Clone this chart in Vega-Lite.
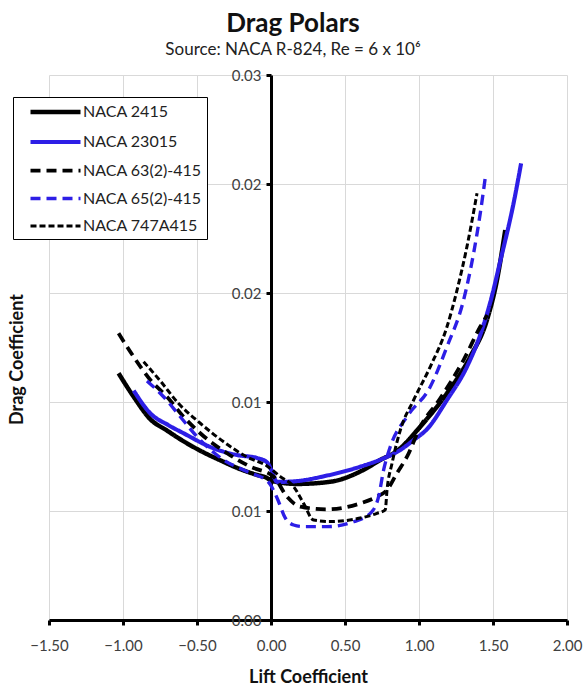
{
  "$schema": "https://vega.github.io/schema/vega-lite/v6.json",
  "width": 518,
  "height": 545,
  "autosize": {"type": "none"},
  "padding": {"left": 49, "top": 75, "right": 20, "bottom": 75},
  "background": "white",
  "title": {
    "text": "Drag Polars",
    "subtitle": "Source: NACA R-824, Re = 6 x 10⁶",
    "anchor": "middle",
    "frame": "group",
    "dx": -15,
    "offset": 10,
    "font": "Lato",
    "fontSize": 26,
    "fontWeight": "bold",
    "color": "#111111",
    "subtitleFont": "Lato",
    "subtitleFontSize": 17,
    "subtitleColor": "#222222",
    "subtitlePadding": 5
  },
  "config": {
    "view": {"stroke": null},
    "font": "Lato",
    "axis": {
      "gridColor": "#d9d9d9",
      "gridWidth": 1,
      "domainColor": "black",
      "domainWidth": 3,
      "tickColor": "black",
      "tickWidth": 3,
      "tickSize": 5,
      "labelFont": "Lato",
      "labelFontSize": 15,
      "labelColor": "#404040",
      "labelFlush": false,
      "labelOverlap": false,
      "titleFont": "Lato",
      "titleFontSize": 18,
      "titleFontWeight": "bold",
      "titleColor": "#111111"
    }
  },
  "data": {
    "values": [
      {"s": "NACA 2415", "cl": -1.030, "cd": 0.01358},
      {"s": "NACA 2415", "cl": -0.928, "cd": 0.01229},
      {"s": "NACA 2415", "cl": -0.815, "cd": 0.01105},
      {"s": "NACA 2415", "cl": -0.703, "cd": 0.01043},
      {"s": "NACA 2415", "cl": -0.613, "cd": 0.00995},
      {"s": "NACA 2415", "cl": -0.478, "cd": 0.00932},
      {"s": "NACA 2415", "cl": -0.340, "cd": 0.00878},
      {"s": "NACA 2415", "cl": -0.207, "cd": 0.00830},
      {"s": "NACA 2415", "cl": -0.100, "cd": 0.00800},
      {"s": "NACA 2415", "cl": -0.027, "cd": 0.00782},
      {"s": "NACA 2415", "cl": 0.007, "cd": 0.00765},
      {"s": "NACA 2415", "cl": 0.176, "cd": 0.00749},
      {"s": "NACA 2415", "cl": 0.401, "cd": 0.00761},
      {"s": "NACA 2415", "cl": 0.624, "cd": 0.00826},
      {"s": "NACA 2415", "cl": 0.739, "cd": 0.00881},
      {"s": "NACA 2415", "cl": 0.851, "cd": 0.00930},
      {"s": "NACA 2415", "cl": 1.008, "cd": 0.01064},
      {"s": "NACA 2415", "cl": 1.189, "cd": 0.01248},
      {"s": "NACA 2415", "cl": 1.346, "cd": 0.01449},
      {"s": "NACA 2415", "cl": 1.459, "cd": 0.01651},
      {"s": "NACA 2415", "cl": 1.527, "cd": 0.01872},
      {"s": "NACA 2415", "cl": 1.583, "cd": 0.02147},

      {"s": "NACA 23015", "cl": -0.928, "cd": 0.01263},
      {"s": "NACA 23015", "cl": -0.816, "cd": 0.01138},
      {"s": "NACA 23015", "cl": -0.694, "cd": 0.01073},
      {"s": "NACA 23015", "cl": -0.591, "cd": 0.01028},
      {"s": "NACA 23015", "cl": -0.388, "cd": 0.00945},
      {"s": "NACA 23015", "cl": -0.230, "cd": 0.00908},
      {"s": "NACA 23015", "cl": -0.095, "cd": 0.00892},
      {"s": "NACA 23015", "cl": -0.027, "cd": 0.00868},
      {"s": "NACA 23015", "cl": 0.002, "cd": 0.00826},
      {"s": "NACA 23015", "cl": 0.041, "cd": 0.00760},
      {"s": "NACA 23015", "cl": 0.153, "cd": 0.00763},
      {"s": "NACA 23015", "cl": 0.378, "cd": 0.00795},
      {"s": "NACA 23015", "cl": 0.603, "cd": 0.00844},
      {"s": "NACA 23015", "cl": 0.761, "cd": 0.00890},
      {"s": "NACA 23015", "cl": 0.874, "cd": 0.00936},
      {"s": "NACA 23015", "cl": 0.964, "cd": 0.00991},
      {"s": "NACA 23015", "cl": 1.054, "cd": 0.01050},
      {"s": "NACA 23015", "cl": 1.189, "cd": 0.01211},
      {"s": "NACA 23015", "cl": 1.324, "cd": 0.01394},
      {"s": "NACA 23015", "cl": 1.414, "cd": 0.01570},
      {"s": "NACA 23015", "cl": 1.482, "cd": 0.01750},
      {"s": "NACA 23015", "cl": 1.549, "cd": 0.01975},
      {"s": "NACA 23015", "cl": 1.639, "cd": 0.02294},
      {"s": "NACA 23015", "cl": 1.690, "cd": 0.02514},

      {"s": "NACA 63(2)-415", "cl": -1.030, "cd": 0.01578},
      {"s": "NACA 63(2)-415", "cl": -0.928, "cd": 0.01449},
      {"s": "NACA 63(2)-415", "cl": -0.815, "cd": 0.01321},
      {"s": "NACA 63(2)-415", "cl": -0.703, "cd": 0.01229},
      {"s": "NACA 63(2)-415", "cl": -0.591, "cd": 0.01119},
      {"s": "NACA 63(2)-415", "cl": -0.478, "cd": 0.01028},
      {"s": "NACA 63(2)-415", "cl": -0.297, "cd": 0.00918},
      {"s": "NACA 63(2)-415", "cl": -0.140, "cd": 0.00844},
      {"s": "NACA 63(2)-415", "cl": 0.018, "cd": 0.00789},
      {"s": "NACA 63(2)-415", "cl": 0.108, "cd": 0.00679},
      {"s": "NACA 63(2)-415", "cl": 0.198, "cd": 0.00624},
      {"s": "NACA 63(2)-415", "cl": 0.378, "cd": 0.00609},
      {"s": "NACA 63(2)-415", "cl": 0.603, "cd": 0.00642},
      {"s": "NACA 63(2)-415", "cl": 0.716, "cd": 0.00679},
      {"s": "NACA 63(2)-415", "cl": 0.784, "cd": 0.00716},
      {"s": "NACA 63(2)-415", "cl": 0.851, "cd": 0.00808},
      {"s": "NACA 63(2)-415", "cl": 0.919, "cd": 0.00899},
      {"s": "NACA 63(2)-415", "cl": 1.009, "cd": 0.01064},
      {"s": "NACA 63(2)-415", "cl": 1.144, "cd": 0.01220},
      {"s": "NACA 63(2)-415", "cl": 1.301, "cd": 0.01431},
      {"s": "NACA 63(2)-415", "cl": 1.414, "cd": 0.01614},
      {"s": "NACA 63(2)-415", "cl": 1.461, "cd": 0.01679},

      {"s": "NACA 65(2)-415", "cl": -0.838, "cd": 0.01316},
      {"s": "NACA 65(2)-415", "cl": -0.726, "cd": 0.01229},
      {"s": "NACA 65(2)-415", "cl": -0.613, "cd": 0.01119},
      {"s": "NACA 65(2)-415", "cl": -0.500, "cd": 0.01009},
      {"s": "NACA 65(2)-415", "cl": -0.320, "cd": 0.00881},
      {"s": "NACA 65(2)-415", "cl": -0.162, "cd": 0.00817},
      {"s": "NACA 65(2)-415", "cl": -0.018, "cd": 0.00760},
      {"s": "NACA 65(2)-415", "cl": 0.041, "cd": 0.00672},
      {"s": "NACA 65(2)-415", "cl": 0.097, "cd": 0.00561},
      {"s": "NACA 65(2)-415", "cl": 0.153, "cd": 0.00523},
      {"s": "NACA 65(2)-415", "cl": 0.220, "cd": 0.00514},
      {"s": "NACA 65(2)-415", "cl": 0.378, "cd": 0.00514},
      {"s": "NACA 65(2)-415", "cl": 0.558, "cd": 0.00541},
      {"s": "NACA 65(2)-415", "cl": 0.671, "cd": 0.00587},
      {"s": "NACA 65(2)-415", "cl": 0.727, "cd": 0.00679},
      {"s": "NACA 65(2)-415", "cl": 0.761, "cd": 0.00826},
      {"s": "NACA 65(2)-415", "cl": 0.806, "cd": 0.00954},
      {"s": "NACA 65(2)-415", "cl": 0.919, "cd": 0.01119},
      {"s": "NACA 65(2)-415", "cl": 1.076, "cd": 0.01284},
      {"s": "NACA 65(2)-415", "cl": 1.189, "cd": 0.01504},
      {"s": "NACA 65(2)-415", "cl": 1.301, "cd": 0.01761},
      {"s": "NACA 65(2)-415", "cl": 1.369, "cd": 0.02019},
      {"s": "NACA 65(2)-415", "cl": 1.414, "cd": 0.02239},
      {"s": "NACA 65(2)-415", "cl": 1.451, "cd": 0.02455},

      {"s": "NACA 747A415", "cl": -0.861, "cd": 0.01422},
      {"s": "NACA 747A415", "cl": -0.748, "cd": 0.01316},
      {"s": "NACA 747A415", "cl": -0.626, "cd": 0.01193},
      {"s": "NACA 747A415", "cl": -0.478, "cd": 0.01083},
      {"s": "NACA 747A415", "cl": -0.320, "cd": 0.00981},
      {"s": "NACA 747A415", "cl": -0.162, "cd": 0.00897},
      {"s": "NACA 747A415", "cl": -0.027, "cd": 0.00848},
      {"s": "NACA 747A415", "cl": 0.063, "cd": 0.00789},
      {"s": "NACA 747A415", "cl": 0.153, "cd": 0.00734},
      {"s": "NACA 747A415", "cl": 0.220, "cd": 0.00642},
      {"s": "NACA 747A415", "cl": 0.288, "cd": 0.00550},
      {"s": "NACA 747A415", "cl": 0.401, "cd": 0.00542},
      {"s": "NACA 747A415", "cl": 0.558, "cd": 0.00554},
      {"s": "NACA 747A415", "cl": 0.716, "cd": 0.00587},
      {"s": "NACA 747A415", "cl": 0.772, "cd": 0.00606},
      {"s": "NACA 747A415", "cl": 0.784, "cd": 0.00716},
      {"s": "NACA 747A415", "cl": 0.818, "cd": 0.00863},
      {"s": "NACA 747A415", "cl": 0.874, "cd": 0.01046},
      {"s": "NACA 747A415", "cl": 0.964, "cd": 0.01211},
      {"s": "NACA 747A415", "cl": 1.076, "cd": 0.01394},
      {"s": "NACA 747A415", "cl": 1.189, "cd": 0.01614},
      {"s": "NACA 747A415", "cl": 1.257, "cd": 0.01816},
      {"s": "NACA 747A415", "cl": 1.324, "cd": 0.02055},
      {"s": "NACA 747A415", "cl": 1.392, "cd": 0.02349}
    ]
  },
  "mark": {"type": "line", "interpolate": "monotone", "clip": true},
  "encoding": {
    "x": {
      "field": "cl",
      "type": "quantitative",
      "scale": {"domain": [-1.5, 2.0], "nice": false, "zero": false},
      "axis": {
        "title": "Lift Coefficient",
        "values": [-1.5, -1.0, -0.5, 0, 0.5, 1.0, 1.5, 2.0],
        "format": ".2f",
        "labelPadding": 13,
        "titleY": 62,
        "titleBaseline": "alphabetic"
      }
    },
    "y": {
      "field": "cd",
      "type": "quantitative",
      "scale": {"domain": [0, 0.03], "nice": false},
      "axis": {
        "title": "Drag Coefficient",
        "values": [0, 0.006, 0.012, 0.018, 0.024, 0.03],
        "format": ".2f",
        "offset": -222,
        "labelPadding": 5,
        "titleX": -254,
        "titleY": 284,
        "titleAngle": 270,
        "titleAlign": "center",
        "titleBaseline": "middle"
      }
    },
    "color": {
      "field": "s",
      "type": "nominal",
      "scale": {
        "domain": ["NACA 2415", "NACA 23015", "NACA 63(2)-415", "NACA 65(2)-415", "NACA 747A415"],
        "range": ["#000000", "#2d1ee6", "#000000", "#2d1ee6", "#000000"]
      },
      "legend": {
        "title": null,
        "orient": "none",
        "legendX": -36,
        "legendY": 22,
        "strokeColor": "black",
        "fillColor": "white",
        "padding": 4.5,
        "symbolType": "M-1,0H5.25",
        "symbolSize": 256,
        "symbolOffset": 10.5,
        "labelFont": "Lato",
        "labelFontSize": 16,
        "labelColor": "#222222",
        "labelOffset": 34,
        "labelExpr": "datum.label + '\u00a0\u00a0'",
        "rowPadding": 10
      }
    },
    "strokeDash": {
      "field": "s",
      "type": "nominal",
      "scale": {
        "domain": ["NACA 2415", "NACA 23015", "NACA 63(2)-415", "NACA 65(2)-415", "NACA 747A415"],
        "range": [[1, 0], [1, 0], [10, 6], [10, 6], [6, 3]]
      },
      "legend": null
    },
    "strokeWidth": {
      "field": "s",
      "type": "nominal",
      "scale": {
        "domain": ["NACA 2415", "NACA 23015", "NACA 63(2)-415", "NACA 65(2)-415", "NACA 747A415"],
        "range": [4.5, 3, 3.5, 3.5, 2]
      },
      "legend": null
    }
  }
}
